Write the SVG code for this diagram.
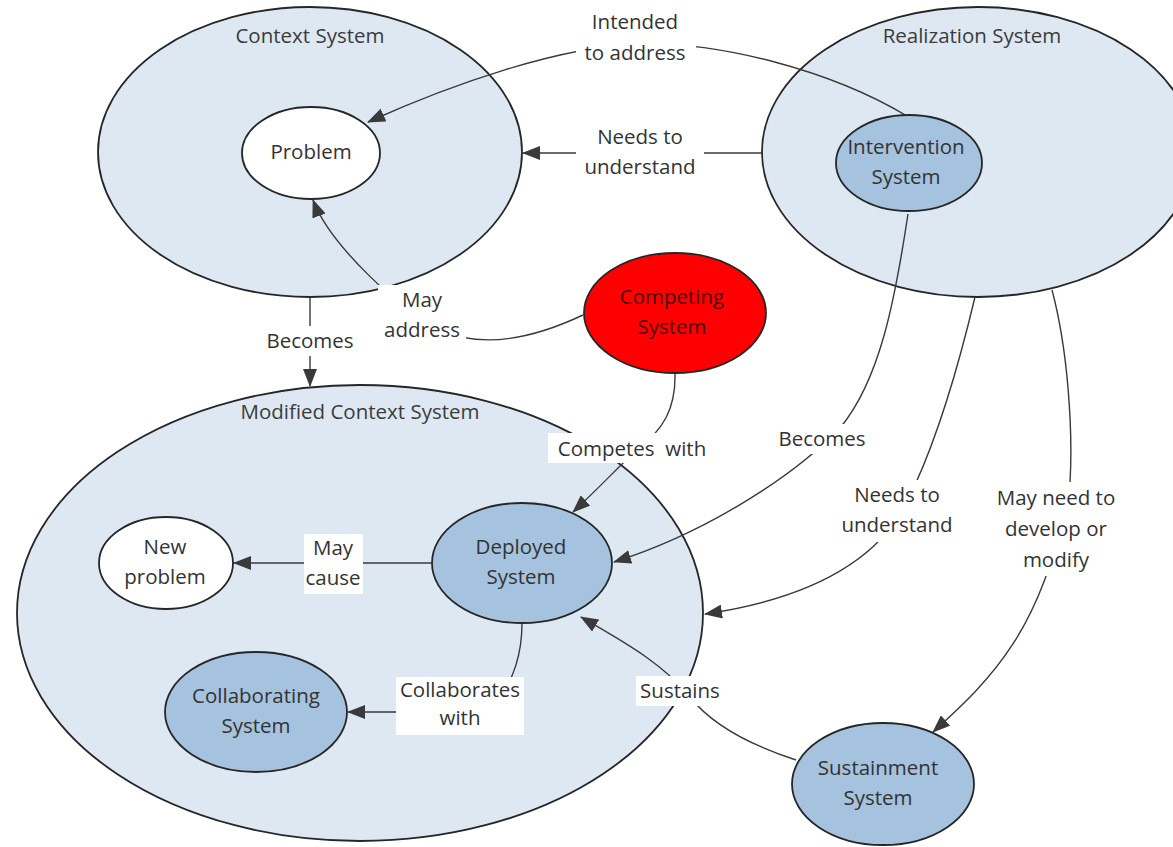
<svg xmlns="http://www.w3.org/2000/svg" width="1173" height="847" viewBox="0 0 1173 847">
  <defs>
    <marker id="arrow" markerUnits="userSpaceOnUse" markerWidth="18" markerHeight="14" viewBox="0 0 18 14" refX="17" refY="7" orient="auto">
      <path d="M0,0 L18,7 L0,14 Z" fill="#3a3a3a"/>
    </marker>
    <style>
      .sys { fill: #dde8f2; stroke: #262626; stroke-width: 1.8; }
      .node { fill: #a5c2de; stroke: #262626; stroke-width: 1.8; }
      .plain { fill: #ffffff; stroke: #262626; stroke-width: 1.8; }
      .rival { fill: #ff0000; stroke: #262626; stroke-width: 1.8; }
      .edge { fill: none; stroke: #3a3a3a; stroke-width: 1.4; }
      .tip { marker-end: url(#arrow); }
      text { font-family: "Open Sans", "Noto Sans", sans-serif; font-size: 20.5px; fill: #333333; text-anchor: middle; }
      .title { fill: #3c3c3c; }
      .dark { fill: #4a0000; }
      .pre { white-space: pre; }
      .lblbg { fill: #ffffff; }
    </style>
  </defs>
  <rect width="1173" height="847" fill="#ffffff"/>

  <!-- system boundaries -->
  <g id="context-system">
    <ellipse class="sys" cx="310" cy="152" rx="212" ry="145"/>
    <text class="title" x="310" y="43">Context System</text>
  </g>
  <g id="realization-system">
    <ellipse class="sys" cx="978" cy="152" rx="216" ry="145"/>
    <text class="title" x="972" y="43">Realization System</text>
  </g>
  <g id="modified-context-system">
    <ellipse class="sys" cx="360" cy="613" rx="343" ry="228"/>
    <text class="title" x="360" y="419">Modified Context System</text>
  </g>

  <!-- connectors -->
  <g id="connectors">
    <path class="edge tip" d="M907,116 C830,70 720,42 640,44 C560,46 450,85 368,122"/>
    <path class="edge tip" d="M762,153 L523,153"/>
    <path class="edge tip" d="M583,315 C530,340 480,348 440,330 C400,310 330,245 313,200"/>
    <path class="edge tip" d="M310,297 L310,386"/>
    <path class="edge tip" d="M675,373 C676,410 662,430 640,447 C620,465 600,487 573,512"/>
    <path class="edge tip" d="M908,214 C895,300 880,380 840,428 C790,480 700,535 614,562"/>
    <path class="edge tip" d="M975,297 C960,360 940,430 915,485 C885,565 800,600 705,614"/>
    <path class="edge tip" d="M1052,290 C1068,350 1073,430 1070,483 C1045,630 990,680 933,732"/>
    <path class="edge tip" d="M796,760 C750,745 712,725 690,697 C662,662 620,640 581,617"/>
    <path class="edge tip" d="M432,563 L234,563"/>
    <path class="edge tip" d="M522,623 C522,650 516,680 490,712 L348,712"/>
  </g>

  <!-- connector labels -->
  <g id="labels">
    <rect class="lblbg" x="576" y="6" width="120" height="62"/>
    <text x="635" y="29">Intended</text>
    <text x="635" y="60">to address</text>

    <rect class="lblbg" x="576" y="122" width="128" height="62"/>
    <text x="640" y="144">Needs to</text>
    <text x="640" y="174">understand</text>

    <rect class="lblbg" x="378" y="285" width="88" height="62"/>
    <text x="422" y="307">May</text>
    <text x="422" y="337">address</text>

    <rect class="lblbg" x="259" y="326" width="102" height="30"/>
    <text x="310" y="348">Becomes</text>

    <rect class="lblbg" x="548" y="433" width="168" height="30"/>
    <text class="pre" x="632" y="456">Competes  with</text>

    <rect class="lblbg" x="773" y="424" width="98" height="30"/>
    <text x="822" y="446">Becomes</text>

    <rect class="lblbg" x="834" y="480" width="126" height="62"/>
    <text x="897" y="502">Needs to</text>
    <text x="897" y="532">understand</text>

    <rect class="lblbg" x="988" y="482" width="136" height="94"/>
    <text x="1056" y="505">May need to</text>
    <text x="1056" y="536">develop or</text>
    <text x="1056" y="567">modify</text>

    <rect class="lblbg" x="636" y="676" width="88" height="30"/>
    <text x="680" y="698">Sustains</text>

    <rect class="lblbg" x="304" y="534" width="59" height="60"/>
    <text x="333" y="555">May</text>
    <text x="333" y="585">cause</text>

    <rect class="lblbg" x="396" y="677" width="128" height="58"/>
    <text x="460" y="697">Collaborates</text>
    <text x="460" y="725">with</text>
  </g>

  <!-- nodes -->
  <g id="problem">
    <ellipse class="plain" cx="311" cy="153" rx="69" ry="46"/>
    <text x="311" y="159">Problem</text>
  </g>
  <g id="intervention-system">
    <ellipse class="node" cx="909" cy="163" rx="73" ry="48"/>
    <text x="906" y="154">Intervention</text>
    <text x="906" y="184">System</text>
  </g>
  <g id="competing-system">
    <ellipse class="rival" cx="675" cy="313" rx="91" ry="60"/>
    <text class="dark" x="672" y="304">Competing</text>
    <text class="dark" x="672" y="334">System</text>
  </g>
  <g id="new-problem">
    <ellipse class="plain" cx="166" cy="563" rx="67" ry="46"/>
    <text x="165" y="554">New</text>
    <text x="165" y="584">problem</text>
  </g>
  <g id="deployed-system">
    <ellipse class="node" cx="522" cy="563" rx="90" ry="60"/>
    <text x="521" y="554">Deployed</text>
    <text x="521" y="584">System</text>
  </g>
  <g id="collaborating-system">
    <ellipse class="node" cx="256" cy="712" rx="91" ry="60"/>
    <text x="256" y="703">Collaborating</text>
    <text x="256" y="733">System</text>
  </g>
  <g id="sustainment-system">
    <ellipse class="node" cx="883" cy="784" rx="91" ry="61"/>
    <text x="878" y="775">Sustainment</text>
    <text x="878" y="805">System</text>
  </g>
</svg>
